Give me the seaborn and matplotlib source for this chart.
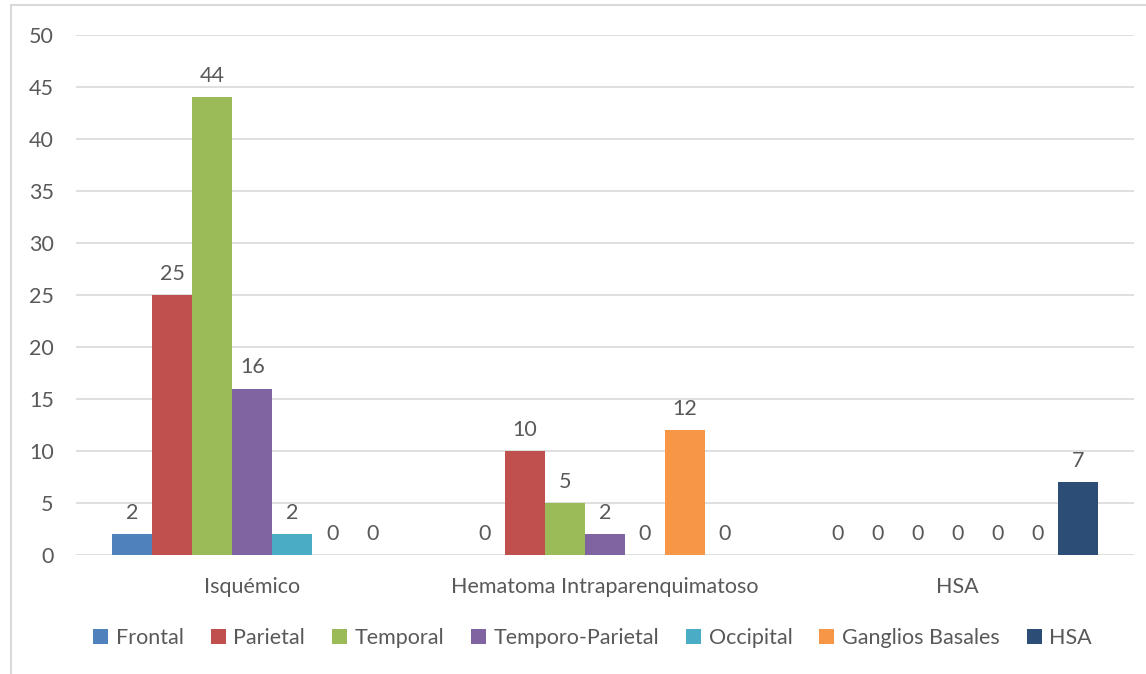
import matplotlib
matplotlib.use("Agg")
import matplotlib.pyplot as plt
from matplotlib.patches import Rectangle
import seaborn as sns
import pandas as pd

categories = ["Isquémico", "Hematoma Intraparenquimatoso", "HSA"]
series = ["Frontal", "Parietal", "Temporal", "Temporo-Parietal",
          "Occipital", "Ganglios Basales", "HSA"]
frontal = [2, 0, 0]
parietal = [25, 10, 0]
temporal = [44, 5, 0]
temporo_parietal = [16, 2, 0]
occipital = [2, 0, 0]
ganglios_basales = [0, 12, 0]
hsa = [0, 0, 7]
colors = ["#4F81BD", "#C0504D", "#9BBB59", "#8064A2",
          "#4BACC6", "#F79646", "#2C4D75"]

values = [frontal, parietal, temporal, temporo_parietal,
          occipital, ganglios_basales, hsa]
rows = []
for name, vals in zip(series, values):
    for cat, v in zip(categories, vals):
        rows.append({"Categoria": cat, "Serie": name, "Valor": v})
df = pd.DataFrame(rows)

sns.set_theme(style="white")
plt.rcParams["font.family"] = ["Lato", "DejaVu Sans"]
text_color = "#595959"
fs = 15.5

fig = plt.figure(figsize=(11.46, 6.74), dpi=100)
ax = fig.add_axes([76 / 1146, 1 - 555 / 674, (1134 - 76) / 1146, (555 - 35) / 674])

sns.barplot(data=df, x="Categoria", y="Valor", hue="Serie",
            order=categories, hue_order=series, palette=colors,
            width=0.794, gap=0, linewidth=0, saturation=1,
            errorbar=None, legend=True, ax=ax)

for cont in ax.containers:
    ax.bar_label(cont, labels=[f"{int(v)}" for v in cont.datavalues],
                 padding=8, fontsize=fs, color=text_color)

ax.set_ylim(0, 50)
ax.set_yticks(range(0, 51, 5))
ax.yaxis.grid(True, color="#d9d9d9", linewidth=1.2)
ax.set_axisbelow(True)
for s in ax.spines.values():
    s.set_visible(False)
ax.set_xlabel("")
ax.set_ylabel("")
ax.tick_params(axis="both", length=0, labelsize=fs, colors=text_color)
ax.tick_params(axis="x", pad=16)
ax.tick_params(axis="y", pad=16)

handles, labels = ax.get_legend_handles_labels()
ax.get_legend().remove()
fig.legend(handles, labels, loc="center", bbox_to_anchor=(0.517, 1 - 638 / 674),
           ncol=7, frameon=False, fontsize=fs, labelcolor=text_color,
           handlelength=0.7, handleheight=0.7, handletextpad=0.35,
           columnspacing=1.25)

fig.patches.append(Rectangle((11 / 1146, -0.1), 1.2, 1 - 5 / 674 + 0.1,
                             transform=fig.transFigure, fill=False,
                             edgecolor="#d9d9d9", linewidth=1.5))

fig.savefig("out.png", dpi=100, facecolor="white")
